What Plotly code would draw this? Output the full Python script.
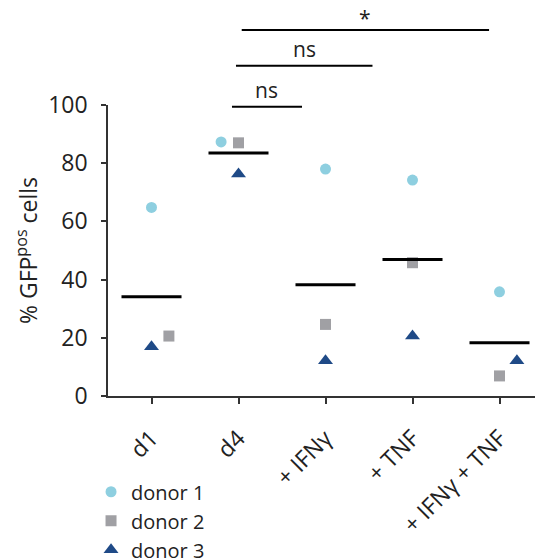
import numpy as np
import plotly.graph_objects as go

categories = ["d1", "d4", "+ IFNγ", "+ TNF", "+ IFNγ + TNF"]
donor1 = [64.8, 87.3, 78.0, 74.2, 35.8]
donor2 = [20.6, 87.0, 24.6, 45.8, 6.9]
donor3 = [16.9, 76.3, 12.1, 20.6, 12.1]
y_ticks = [0, 20, 40, 60, 80, 100]
donor_names = ["donor 1", "donor 2", "donor 3"]

# horizontal jitter used in the figure to separate overlapping points
jitter1 = [0, -0.2, 0, 0, 0]
jitter2 = [0.2, 0, 0, 0, 0]
jitter3 = [0, 0, 0, 0, 0.2]

# significance comparisons: (x start, x end, label) in category units
sig_x0 = [0.925, 0.971, 1.037]
sig_x1 = [1.73, 2.54, 3.88]
sig_labels = ["ns", "ns", "*"]
sig_level_y = [0.994, 1.135, 1.258]

FONT = "Open Sans"
colors = ["#8ecfe0", "#a0a0a4", "#1f4a87"]
symbols = ["circle", "square", "triangle-up"]
sizes = [11, 11, 13]
label_shift = {"ns": 1, "*": -4}

idx = np.arange(len(categories))
fig = go.Figure()

series = [donor1, donor2, donor3]
jitters = [jitter1, jitter2, jitter3]
for name, vals, jit, col, sym, sz in zip(donor_names, series, jitters, colors, symbols, sizes):
    fig.add_trace(go.Scatter(
        x=idx + np.array(jit), y=vals, mode="markers", name=name,
        marker=dict(color=col, symbol=sym, size=sz, line=dict(width=0)),
        cliponaxis=False,
    ))

means = np.mean(np.array(series), axis=0)
half = 0.345
for i, m in enumerate(means):
    fig.add_trace(go.Scatter(
        x=[i - half, i + half], y=[m, m], mode="lines",
        line=dict(color="black", width=3), showlegend=False, hoverinfo="skip",
    ))

shapes = []
annotations = []
for x0, x1, lab, yy in zip(sig_x0, sig_x1, sig_labels, sig_level_y):
    shapes.append(dict(type="line", xref="x", yref="paper", x0=x0, x1=x1, y0=yy, y1=yy,
                       line=dict(color="black", width=2)))
    annotations.append(dict(xref="x", yref="paper", x=(x0 + x1) / 2, y=yy, text=lab,
                            showarrow=False, yanchor="bottom", yshift=label_shift[lab],
                            font=dict(family=FONT, size=21, color="#222")))

fig.update_layout(
    width=535, height=552,
    margin=dict(l=100, r=0, t=97, b=164, autoexpand=False),
    paper_bgcolor="white", plot_bgcolor="white",
    font=dict(family=FONT, color="#222"),
    shapes=shapes, annotations=annotations,
    showlegend=True,
    legend=dict(x=-0.039, y=-0.262, xanchor="left", yanchor="top",
                font=dict(family=FONT, size=20, color="#222"),
                bgcolor="rgba(0,0,0,0)", tracegroupgap=0, itemwidth=30),
)
fig.update_xaxes(
    range=[-0.5, 4.5], tickmode="array", tickvals=list(idx), ticktext=categories,
    tickangle=-45, tickfont=dict(family=FONT, size=23, color="#222"),
    showline=True, linecolor="#333", linewidth=1.5, ticks="outside", ticklen=6,
    tickcolor="#333", tickwidth=1.5, showgrid=False, zeroline=False,
    ticklabelstandoff=12, automargin=False,
)
fig.update_yaxes(
    range=[0, 100], tickmode="array", tickvals=y_ticks,
    tickfont=dict(family=FONT, size=23, color="#222"),
    showline=True, linecolor="#333", linewidth=1.5, ticks="outside", ticklen=5,
    tickcolor="#333", tickwidth=1.5, showgrid=False, zeroline=False,
    ticklabelstandoff=9, automargin=False,
    title=dict(text="% GFP<sup>pos</sup> cells", font=dict(family=FONT, size=23, color="#222"),
               standoff=4),
)

fig.write_html("out.html")
